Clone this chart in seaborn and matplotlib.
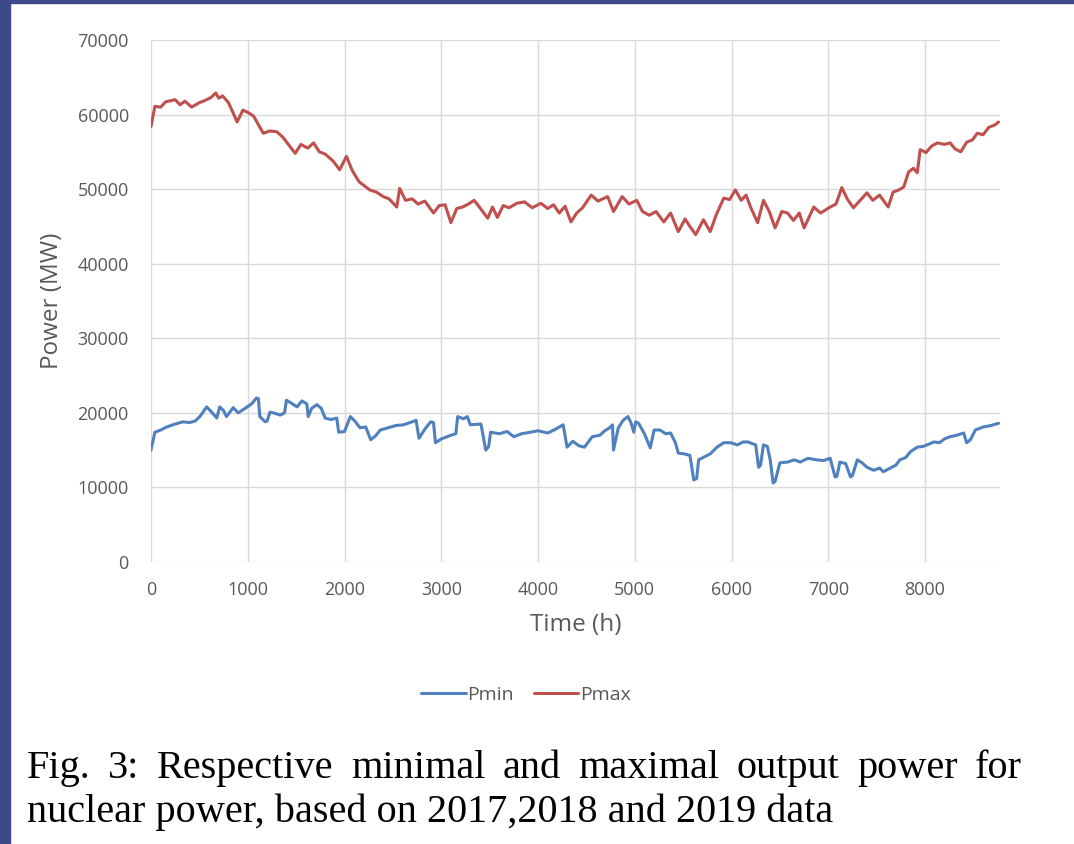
import matplotlib
matplotlib.use("Agg")
import matplotlib.pyplot as plt
import seaborn as sns

# values (hour of year, MW)
pmax_hours = [0, 40, 100, 150, 250, 300, 350, 420, 500, 560, 620, 670, 700, 740, 800, 850, 890, 950,
              1000, 1060, 1160, 1230, 1300, 1360, 1420, 1490, 1550, 1620, 1680, 1740, 1800, 1880, 1950,
              2020, 2080, 2150, 2200, 2260, 2330, 2400, 2460, 2540, 2570, 2630, 2700, 2760, 2830, 2920,
              2980, 3040, 3100, 3160, 3220, 3280, 3340, 3400, 3480, 3530, 3580, 3640, 3700, 3780, 3860,
              3940, 4030, 4100, 4160, 4220, 4280, 4340, 4400, 4460, 4550, 4620, 4720, 4780, 4870, 4940,
              5020, 5080, 5150, 5220, 5300, 5370, 5450, 5520, 5570, 5630, 5710, 5780, 5840, 5920, 5980,
              6040, 6100, 6150, 6200, 6270, 6330, 6390, 6450, 6520, 6580, 6640, 6700, 6750, 6850, 6920,
              7020, 7080, 7140, 7200, 7260, 7330, 7400, 7460, 7530, 7620, 7670, 7730, 7780, 7830, 7880,
              7920, 7950, 8010, 8070, 8130, 8200, 8260, 8310, 8370, 8430, 8490, 8540, 8600, 8660, 8720, 8760]
pmax_mw = [58400, 61100, 61000, 61700, 62000, 61300, 61800, 61000, 61600, 61900, 62300, 62900, 62200,
           62500, 61600, 60200, 59000, 60600, 60300, 59800, 57500, 57800, 57700, 57000, 56000, 54800,
           56000, 55500, 56200, 55000, 54700, 53800, 52600, 54400, 52500, 51000, 50500, 49900, 49600,
           49000, 48700, 47600, 50100, 48500, 48700, 48000, 48400, 46800, 47800, 47900, 45500, 47400,
           47600, 48000, 48500, 47500, 46100, 47600, 46200, 47800, 47500, 48100, 48300, 47500, 48100,
           47400, 47900, 46800, 47700, 45600, 46800, 47500, 49200, 48400, 49000, 47000, 49000, 48000,
           48500, 47000, 46500, 47000, 45600, 46800, 44300, 46000, 45000, 43900, 45900, 44300, 46500,
           48800, 48600, 49900, 48500, 49200, 47500, 45500, 48500, 47000, 44800, 47000, 46800, 45800,
           46800, 44800, 47600, 46800, 47600, 48000, 50200, 48600, 47500, 48500, 49500, 48500, 49200,
           47600, 49600, 49900, 50300, 52300, 52800, 52200, 55300, 54900, 55800, 56200, 56000, 56200,
           55400, 55000, 56300, 56600, 57500, 57300, 58300, 58600, 59000]

pmin_hours = [0, 40, 100, 160, 250, 330, 400, 455, 505, 575, 620, 680, 710, 750, 780, 850, 900, 960,
              1040, 1090, 1110, 1125, 1180, 1200, 1230, 1290, 1335, 1380, 1400, 1450, 1510, 1560, 1610,
              1625, 1660, 1715, 1760, 1800, 1860, 1920, 1940, 2000, 2060, 2100, 2160, 2220, 2270, 2320,
              2370, 2450, 2530, 2610, 2700, 2740, 2770, 2830, 2890, 2920, 2940, 3000, 3100, 3150, 3170,
              3230, 3270, 3300, 3410, 3460, 3490, 3510, 3600, 3680, 3750, 3830, 3920, 4000, 4100, 4180,
              4260, 4300, 4360, 4420, 4480, 4560, 4640, 4690, 4740, 4770, 4780, 4830, 4880, 4930, 4960,
              4990, 5010, 5040, 5100, 5160, 5200, 5260, 5320, 5370, 5420, 5450, 5510, 5570, 5610, 5640,
              5660, 5720, 5780, 5850, 5920, 5990, 6060, 6120, 6170, 6250, 6280, 6300, 6330, 6370, 6400,
              6430, 6450, 6500, 6580, 6650, 6710, 6790, 6880, 6950, 7020, 7070, 7090, 7120, 7180, 7230,
              7250, 7300, 7350, 7400, 7470, 7530, 7570, 7640, 7700, 7740, 7800, 7850, 7920, 7980, 8040,
              8090, 8150, 8200, 8260, 8330, 8400, 8430, 8470, 8520, 8600, 8680, 8760]
pmin_mw = [15000, 17400, 17700, 18100, 18500, 18800, 18700, 18900, 19500, 20800, 20200, 19300, 20800,
           20300, 19500, 20700, 20000, 20500, 21200, 22000, 21900, 19500, 18800, 18900, 20100, 19900,
           19700, 20000, 21700, 21300, 20800, 21600, 21200, 19500, 20600, 21100, 20600, 19300, 19100,
           19300, 17400, 17500, 19500, 19000, 18000, 18100, 16400, 16900, 17700, 18000, 18300, 18400,
           18800, 19000, 16600, 17800, 18800, 18700, 16000, 16500, 17000, 17200, 19500, 19200, 19500,
           18400, 18500, 15000, 15500, 17400, 17200, 17500, 16800, 17200, 17400, 17600, 17300, 17800,
           18400, 15400, 16200, 15600, 15400, 16800, 17000, 17600, 18000, 18400, 15000, 18000, 19000,
           19500, 18700, 17400, 18800, 18600, 17200, 15300, 17700, 17700, 17200, 17300, 16000, 14600,
           14500, 14300, 11000, 11200, 13700, 14100, 14500, 15400, 16000, 16000, 15700, 16100, 16100,
           15700, 12700, 13000, 15700, 15500, 13700, 10600, 10800, 13300, 13400, 13700, 13400, 13900,
           13700, 13600, 13900, 11400, 11500, 13400, 13200, 11400, 11600, 13700, 13300, 12700, 12300,
           12600, 12100, 12600, 13000, 13700, 14000, 14800, 15400, 15500, 15800, 16100, 16000, 16500,
           16800, 17000, 17300, 16000, 16400, 17700, 18100, 18300, 18600]

x_ticks = [0, 1000, 2000, 3000, 4000, 5000, 6000, 7000, 8000]
y_ticks = [0, 10000, 20000, 30000, 40000, 50000, 60000, 70000]

caption_line1 = "Fig. 3: Respective minimal and maximal output power for"
caption_line2 = "nuclear power, based on 2017,2018 and 2019 data"

sns.set_style("white")
plt.rcParams['font.family'] = ['Open Sans', 'DejaVu Sans']

fig = plt.figure(figsize=(10.74, 8.44), dpi=100)
ax = fig.add_axes([151 / 1074, 1 - 562 / 844, 849 / 1074, 522 / 844])

sns.lineplot(x=pmin_hours, y=pmin_mw, ax=ax, color='#4f81bd', linewidth=2.2, label='Pmin')
sns.lineplot(x=pmax_hours, y=pmax_mw, ax=ax, color='#c0504d', linewidth=2.2, label='Pmax')

ax.set_xlim(0, 8775)
ax.set_ylim(0, 70000)
ax.set_xticks(x_ticks)
ax.set_yticks(y_ticks)
ax.grid(True, color='#d9d9d9', linewidth=1.0)
ax.set_axisbelow(True)
for s in ax.spines.values():
    s.set_visible(False)
ax.tick_params(axis='both', length=0, labelsize=13, colors='#595959')
ax.tick_params(axis='y', pad=16)
ax.tick_params(axis='x', pad=14)

ax.set_xlabel("Time (h)", fontsize=17.5, color='#595959', labelpad=10)
ax.set_ylabel("Power (MW)", fontsize=17.5, color='#595959', labelpad=10)

leg = ax.legend(loc='center', bbox_to_anchor=(526 / 1074, 1 - 695 / 844),
                bbox_transform=fig.transFigure, ncol=2, frameon=False, fontsize=14,
                handlelength=2.3, handletextpad=0.1, columnspacing=1.0)
for t in leg.get_texts():
    t.set_color('#595959')

# dark frame of the screenshot
fig.patches.append(plt.Rectangle((0, 0), 10 / 1074, 1, transform=fig.transFigure,
                                 color='#3c4a8c', zorder=0))
fig.patches.append(plt.Rectangle((0, 1 - 3 / 844), 1, 3 / 844, transform=fig.transFigure,
                                 color='#3c4a8c', zorder=0))

# justified first caption line
serif = ['Liberation Serif', 'DejaVu Serif']
words = caption_line1.split()
texts = [fig.text(0, 1 - 778 / 844, w, fontsize=29, family=serif, color='black') for w in words]
fig.canvas.draw()
renderer = fig.canvas.get_renderer()
widths = [t.get_window_extent(renderer).width for t in texts]
left, right = 27, 1022
gap = (right - left - sum(widths)) / (len(words) - 1)
xpos = left
for t, w in zip(texts, widths):
    t.set_x(xpos / 1074)
    xpos += w + gap
fig.text(27 / 1074, 1 - 822 / 844, caption_line2, fontsize=29, family=serif, color='black')

fig.savefig("out.png", dpi=100)
